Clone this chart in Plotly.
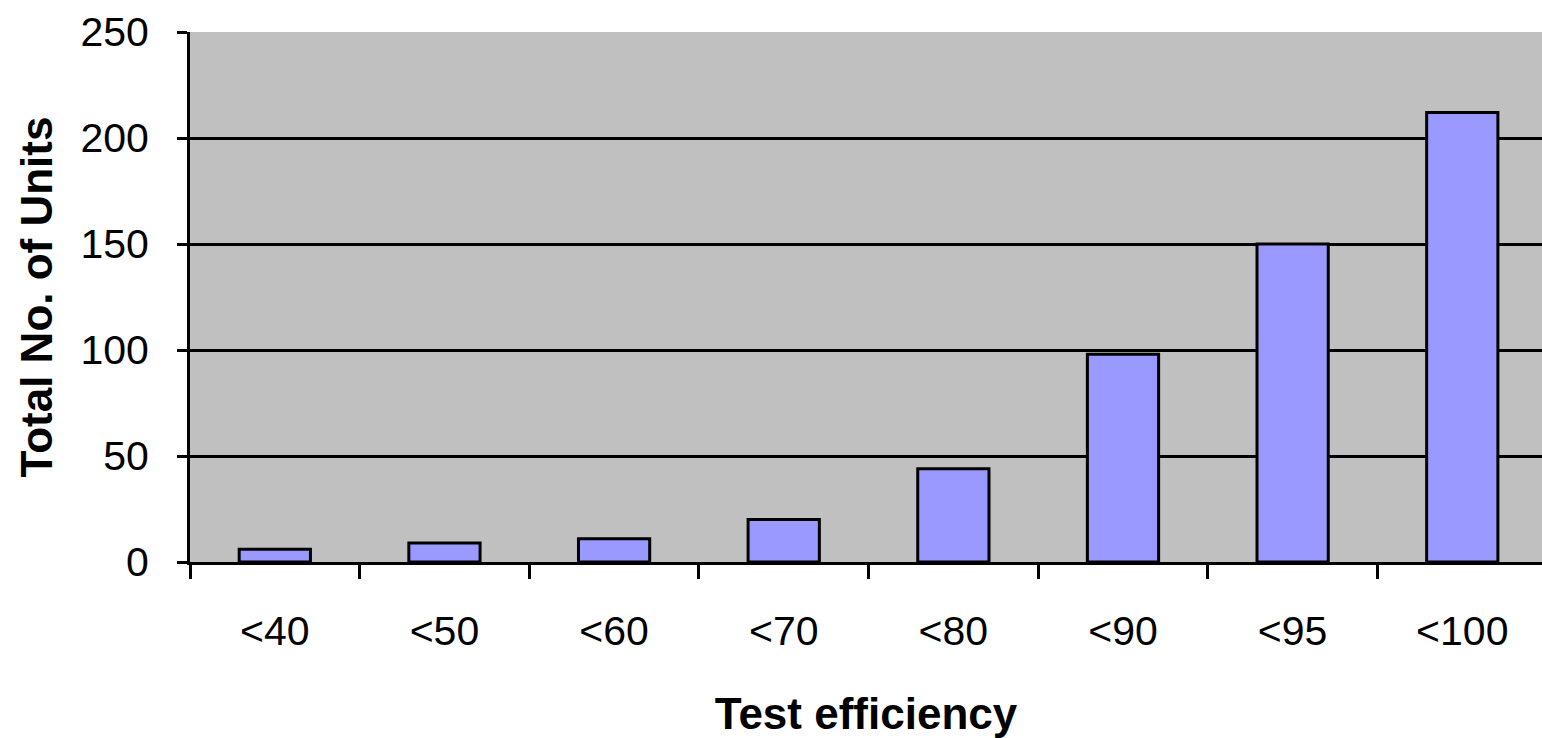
import plotly.graph_objects as go

categories = ["<40", "<50", "<60", "<70", "<80", "<90", "<95", "<100"]
units = [6, 9, 11, 20, 44, 98, 150, 212]
y_ticks = [0, 50, 100, 150, 200, 250]

tick_font = dict(family="Liberation Sans, Arial, sans-serif", size=41, color="black")
title_font = dict(family="Liberation Sans, Arial, sans-serif", size=44, color="black", weight="bold")

fig = go.Figure(
    go.Bar(
        x=categories,
        y=units,
        width=0.42,
        marker=dict(color="#9999FF", line=dict(color="black", width=3)),
    )
)

fig.update_layout(
    width=1542,
    height=738,
    margin=dict(l=190, r=0, t=32, b=176, autoexpand=False),
    plot_bgcolor="#C0C0C0",
    paper_bgcolor="white",
    showlegend=False,
)

fig.update_xaxes(
    type="category",
    range=[-0.5, 7.47],
    tickson="boundaries",
    ticks="outside",
    ticklen=14,
    tickwidth=3,
    tickcolor="black",
    showline=True,
    linecolor="black",
    linewidth=3,
    showgrid=False,
    tickfont=tick_font,
    ticklabelstandoff=31,
    automargin=False,
    title=dict(text="Test efficiency", font=title_font, standoff=50),
)

fig.update_yaxes(
    range=[0, 250],
    tickvals=y_ticks,
    ticks="outside",
    ticklen=10,
    tickwidth=3,
    tickcolor="black",
    showline=True,
    linecolor="black",
    linewidth=3,
    showgrid=True,
    gridcolor="black",
    gridwidth=3,
    zeroline=False,
    tickfont=tick_font,
    ticklabelstandoff=20,
    automargin=False,
    title=dict(text="Total No. of Units", font=title_font, standoff=14),
)

fig.write_html(
    "out.html",
    config={"displayModeBar": False},
    post_script="document.body.style.margin='0';document.body.style.overflow='hidden';",
)
